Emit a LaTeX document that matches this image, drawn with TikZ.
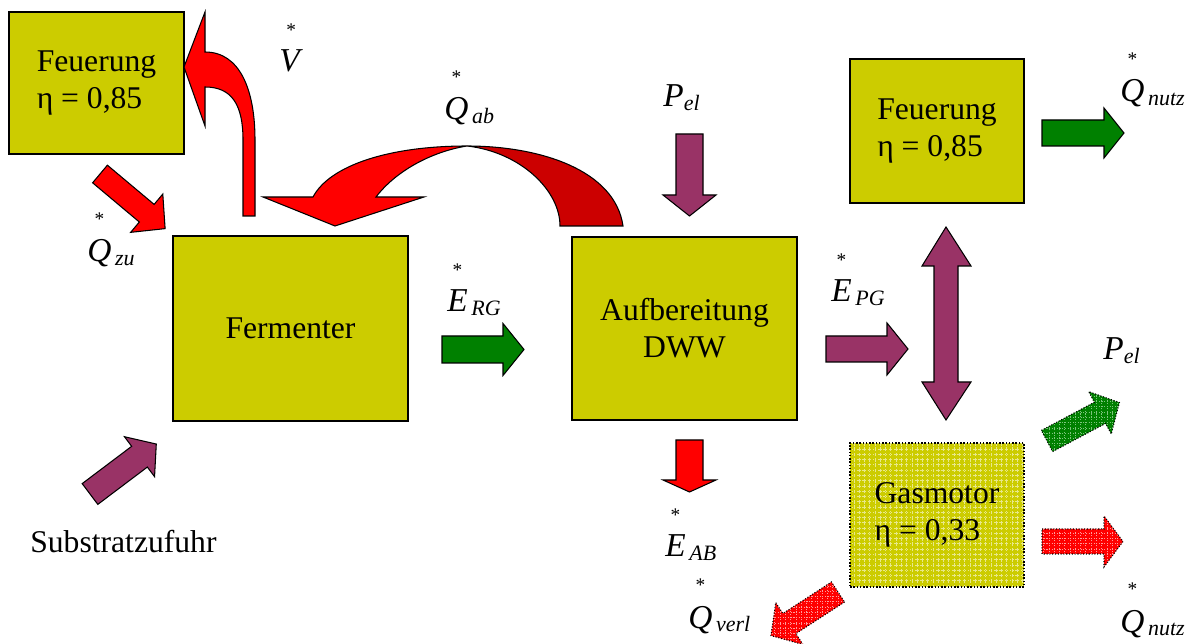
\documentclass[tikz,border=0pt]{standalone}
\usepackage{fontspec}
\setmainfont{Liberation Serif}
\usetikzlibrary{patterns}
\definecolor{bioInk}{HTML}{000000}
\definecolor{bioOlive}{HTML}{CCCC00}
\definecolor{bioOliveLight}{HTML}{E8E88A}
\definecolor{bioPlum}{HTML}{993366}
\definecolor{bioGreen}{HTML}{008000}
\definecolor{bioGreenLight}{HTML}{7CC47C}
\definecolor{bioRed}{HTML}{FF0000}
\definecolor{bioRedLight}{HTML}{FF9A9A}
\definecolor{bioDarkRed}{HTML}{CC0000}
\newcommand{\subfont}{\fontsize{12.5}{14}\selectfont\itshape}
\newcommand{\flux}[2]{\shortstack{{\fontsize{11}{11}\selectfont *}\\[5pt]\textit{#1}}\raisebox{-0.25ex}{\subfont\,#2}}
% outline of a block arrow: length / half shaft / half head / head length
\newcommand{\barrowpath}[4]{(0,-#2) -- ({#1-#4},-#2) -- ({#1-#4},-#3) -- (#1,0)
      -- ({#1-#4},#3) -- ({#1-#4},#2) -- (0,#2) -- cycle}
\tikzset{
  bio/box/.style={draw=bioInk, line width=0.85pt, fill=bioOlive,
    align=left, font=\fontsize{18}{21}\selectfont, inner sep=0pt},
  bio/hatchbox/.style={bio/box, densely dotted, preaction={fill=bioOlive},
    pattern=grid, pattern color=bioOliveLight},
  bio/arrow/.style={draw=bioInk, line width=0.6pt},
  bio/hatcharrow/.style={bio/arrow, densely dotted, pattern=grid},
  bio/label/.style={inner sep=0pt, anchor=base west,
    font=\fontsize{19}{22}\selectfont},
  pics/barrow/.style n args={4}{code={
    \path[pic actions] \barrowpath{#1}{#2}{#3}{#4};
  }},
  % same arrow, filled with #5 under the hatching
  pics/hbarrow/.style n args={5}{code={
    \fill[#5] \barrowpath{#1}{#2}{#3}{#4};
    \path[pic actions] \barrowpath{#1}{#2}{#3}{#4};
  }},
}
\begin{document}
\begin{tikzpicture}[
    x=0.02cm, y=-0.02cm,
    box/.style={bio/box},
    arrow/.style={bio/arrow},
    lbl/.style={bio/label},
]
\useasboundingbox (0,0) rectangle (1196,644);

% process boxes
\node[box, minimum width=3.5cm, minimum height=2.84cm] (feuerL) at (96.5,83) {Feuerung\\η = 0,85};
\node[box, align=center, minimum width=4.7cm, minimum height=3.7cm] (ferm) at (290.5,328.5) {Fermenter};
\node[box, align=center, minimum width=4.5cm, minimum height=3.66cm] (aufb) at (684.5,328.5) {Aufbereitung\\DWW};
\node[box, minimum width=3.48cm, minimum height=2.88cm] (feuerR) at (937,131) {Feuerung\\η = 0,85};
\node[bio/hatchbox, minimum width=3.48cm, minimum height=2.88cm] (gasm) at (937,515) {Gasmotor\\η = 0,33};

% straight block arrows
\pic[arrow, fill=bioGreen] at (442,349.5) {barrow={82}{13.5}{26}{21}};
\pic[arrow, fill=bioPlum] at (826,349) {barrow={82}{13}{26}{21}};
\pic[arrow, fill=bioPlum, rotate=-90] at (689.5,134) {barrow={82}{13.5}{26.5}{21}};
\pic[arrow, fill=bioRed, rotate=-90] at (689.5,440) {barrow={52}{13.5}{26.5}{12}};
\pic[arrow, fill=bioGreen] at (1042,133) {barrow={82}{13}{25}{20}};
\pic[arrow, fill=bioPlum, rotate=37] at (90,494) {barrow={83}{13}{25}{21}};
\pic[arrow, fill=bioRed, rotate=-40] at (100,174) {barrow={85}{11.5}{25}{24}};

% dotted, hatched arrows of the gas engine
\pic[bio/hatcharrow, pattern color=bioRedLight]
  at (1042,541.5) {hbarrow={81}{12.5}{25.5}{19}{bioRed}};
\pic[bio/hatcharrow, pattern color=bioGreenLight, rotate=28]
  at (1047,441) {hbarrow={82}{12}{24}{22}{bioGreen}};
\pic[bio/hatcharrow, pattern color=bioRedLight, rotate=213]
  at (838,592) {hbarrow={80}{12}{25}{22}{bioRed}};

% double arrow between gas line, burner and engine
\draw[arrow, fill=bioPlum] (946,227) -- (971,266) -- (958,266) -- (958,382) -- (971,382)
  -- (946,420) -- (922,382) -- (934,382) -- (934,266) -- (922,266) -- cycle;

% exhaust arrow up to the burner
\draw[arrow, fill=bioRed] (243,216) -- (243,140) .. controls (243,105) and (232,87) .. (205,87)
  -- (205,126) -- (184,67) -- (205,12) -- (205,52)
  .. controls (240,52) and (255,90) .. (255,140) -- (255,216) -- cycle;

% heat return arrow
\draw[arrow, fill=bioDarkRed] (623,226) .. controls (615,170) and (540,146) .. (467,146)
  .. controls (520,152) and (560,190) .. (560,226) -- cycle;
\draw[arrow, fill=bioRed] (467,146) .. controls (390,146) and (330,165) .. (313,197)
  -- (263,197) -- (335,226) -- (424,197) -- (376,197)
  .. controls (395,172) and (430,152) .. (467,146) -- cycle;

% flow labels
\node[lbl] (lV) at (279,72) {\flux{V}{}};
\node[lbl] (lQab) at (444,120) {\flux{Q}{ab}};
\node[lbl] (lQzu) at (87,262) {\flux{Q}{zu}};
\node[lbl] (lPel) at (663,107) {\textit{P}\raisebox{-0.25ex}{\subfont el}};
\node[lbl] (lERG) at (447,312) {\flux{E}{RG}};
\node[lbl] (lEPG) at (831,302) {\flux{E}{PG}};
\node[lbl] (lEAB) at (665,557) {\flux{E}{AB}};
\node[lbl] (lQverl) at (688,628) {\flux{Q}{verl}};
\node[lbl] (lQnutzA) at (1120,102) {\flux{Q}{nutz}};
\node[lbl] (lPelB) at (1103,360) {\textit{P}\raisebox{-0.25ex}{\subfont el}};
\node[lbl] (lQnutzB) at (1120,632) {\flux{Q}{nutz}};
\node[lbl, font=\fontsize{18}{21}\selectfont] (lSub) at (30,553) {Substratzufuhr};
\end{tikzpicture}
\end{document}
